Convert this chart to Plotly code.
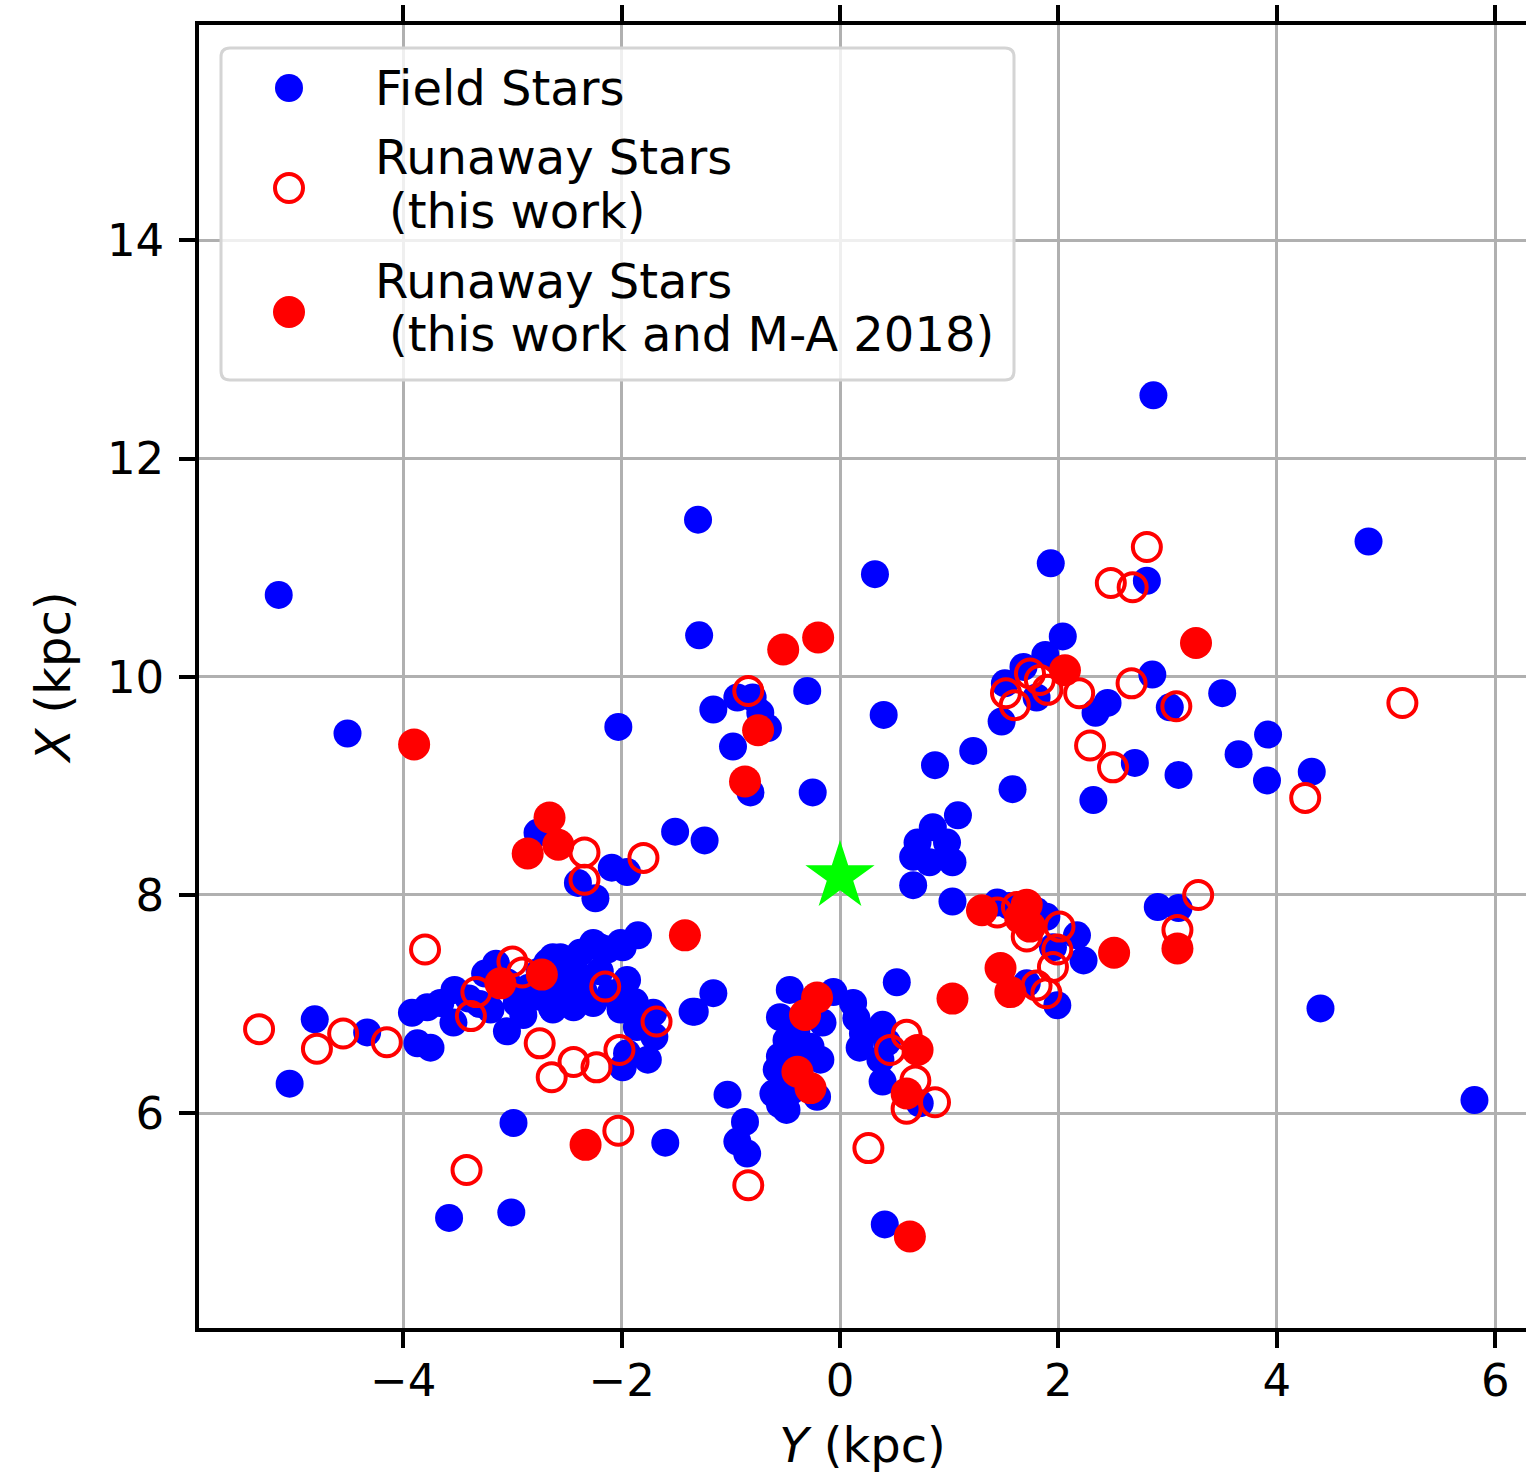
import plotly.graph_objects as go

# Galactocentric positions in kpc: horizontal axis is Y, vertical axis is X
field_Y = [
    -5.14, -4.51, -5.04, -4.81, -4.33, -3.58, -3.01, -2.99, -1.60,
    -1.30, -1.29, -2.03, -1.16, -0.98, -0.94, -0.80, -0.73, -0.66, -0.30, 0.40,
    -0.82, -0.25, 0.32, -1.51, -1.24,
    -2.77, -2.40, -2.24, -2.09, -1.95,
    1.93, 2.87, 4.84, 2.81, 2.04, 1.88, 1.68, 1.51, 1.80, 1.48, 2.45, 2.34,
    2.86, 3.02, 3.50, 3.92, 2.70, 3.65, 3.10, 2.32, 3.91, 4.32,
    0.87, 1.22, 1.58, 1.08, 0.85, 0.71, 0.98, 0.67, 0.82, 1.03, 0.67, 1.03,
    1.44, 1.89, 2.17, 2.23, 1.95, 1.71, 1.99, 2.91, 3.10, 4.40, 5.81, 0.52,
    1.55, 1.80,
    -1.16, -1.33, -1.03, -0.87, -0.94, -0.85, -0.46, -0.55, -0.16, -0.06,
    0.12, 0.15, 0.18, 0.39, 0.43, 0.39, 0.73, 0.41, -0.49, -0.27, -0.18,
    -0.58, -0.21, -0.61, -0.55, -0.49, -0.43, -0.55, -0.40, -0.35, -0.45,
    -0.30, 0.21, 0.37,
    -3.92, -3.78, -3.66, -3.53, -3.87, -3.75, -3.54, -3.15, -3.05, -2.96,
    -2.77, -2.63, -2.63, -2.47, -2.44, -2.26, -2.13, -1.99, -1.85, -2.26,
    -2.01, -1.95, -2.38, -1.71, -1.86, -1.35, -1.99, -1.76, -1.95, -2.68,
    -2.56, -2.38, -2.20, -2.01, -2.64, -3.40, -3.30, -3.20, -2.85, -2.55,
    -2.35, -2.50, -3.05, -2.20, -2.10, -1.88, -3.25, -2.90, -2.75, -1.70,
]
field_X = [
    10.75, 9.48, 6.27, 6.86, 6.74, 5.04, 5.09, 5.91, 5.73,
    11.44, 10.38, 9.54, 9.70, 9.36, 9.81, 9.81, 9.67, 9.53, 9.87, 9.65,
    8.94, 8.94, 10.94, 8.58, 8.50,
    8.57, 8.11, 7.97, 8.25, 8.21,
    11.04, 12.58, 11.24, 10.88, 10.37, 10.20, 10.09, 9.94, 9.81, 9.59, 9.76, 9.67,
    10.02, 9.72, 9.85, 9.47, 9.21, 9.29, 9.10, 8.87, 9.05, 9.13,
    9.19, 9.32, 8.97, 8.73, 8.62, 8.48, 8.48, 8.35, 8.30, 8.30, 8.09, 7.94,
    7.93, 7.80, 7.63, 7.40, 7.52, 7.19, 6.99, 7.89, 7.88, 6.96, 6.12, 7.20,
    7.90, 7.85,
    7.10, 6.93, 6.17, 5.92, 5.74, 5.63, 7.13, 6.88, 6.83, 7.11,
    7.01, 6.87, 6.60, 6.81, 6.65, 6.29, 6.09, 4.98, 6.67, 6.61, 6.49,
    6.40, 6.15, 6.18, 6.08, 6.03, 6.49, 6.52, 6.75, 6.30, 6.20,
    6.95, 6.73, 6.49,
    6.92, 6.97, 7.01, 7.13, 6.64, 6.60, 6.83, 7.37, 6.75, 7.01,
    7.07, 6.95, 7.43, 7.25, 6.97, 7.56, 7.50, 7.52, 7.63, 7.01,
    6.95, 7.22, 7.25, 6.92, 6.79, 6.93, 6.42, 6.49, 6.55, 7.38,
    7.43, 7.47, 7.52, 7.56, 6.97, 7.05, 7.00, 6.95, 7.15, 7.15,
    7.12, 7.05, 7.20, 7.30, 7.10, 7.02, 7.28, 6.90, 7.30, 6.70,
]

# Runaway stars identified in this work only
runaway_Y = [
    -5.32, -4.79, -4.55, -4.15, -3.80, -3.38, -3.33, -3.00, -2.91, -2.75,
    -2.64, -2.44, -2.23, -2.02, -2.15, -1.68, -2.34, -2.34, -1.80, -3.42,
    -2.03, -0.84, 0.26, -0.84, 0.61, 0.46, 0.69, 0.87, 0.61, 1.44,
    1.62, 1.71, 2.01, 1.99, 1.95, 1.80, 1.89, 3.09, 3.28, 4.26,
    5.15, 2.29, 2.50, 3.08, 2.67, 2.19, 1.52, 1.60, 1.74, 1.83,
    1.90, 2.48, 2.68, 2.81,
]
runaway_X = [
    6.77, 6.59, 6.73, 6.65, 7.50, 6.89, 7.11, 7.39, 7.29, 6.64,
    6.33, 6.47, 6.42, 6.58, 7.16, 6.84, 8.39, 8.14, 8.34, 5.48,
    5.84, 5.34, 5.68, 9.87, 6.72, 6.58, 6.30, 6.10, 6.04, 7.84,
    7.89, 7.62, 7.71, 7.50, 7.34, 7.17, 7.10, 7.68, 8.00, 8.89,
    9.76, 9.37, 9.17, 9.73, 9.94, 9.85, 9.85, 9.74, 10.03, 9.97,
    9.88, 10.86, 10.82, 11.19,
]

# Runaway stars found in this work and in M-A 2018
runaway_ma_Y = [
    -0.52, -0.20, -0.75, -0.87, -3.90, -2.66, -2.86, -2.58, -1.42, 3.26,
    2.06, 2.51, 3.09, 1.30, 1.71, 1.65, 1.74, 1.47, 1.56, 1.03,
    0.71, 0.61, 0.64, -0.21, -0.32, -0.39, -0.27, -3.11, -2.73, -2.33,
]
runaway_ma_X = [
    10.25, 10.36, 9.51, 9.04, 9.38, 8.71, 8.38, 8.46, 7.63, 10.31,
    10.06, 7.47, 7.51, 7.86, 7.91, 7.79, 7.71, 7.33, 7.11, 7.05,
    6.58, 6.18, 4.87, 7.06, 6.90, 6.38, 6.23, 7.19, 7.27, 5.71,
]

# Position of the Sun
sun_Y = [0.0]
sun_X = [8.17]

x_ticks = [-4, -2, 0, 2, 4, 6]
y_ticks = [6, 8, 10, 12, 14]

legend_entries = [
    ("Field Stars",),
    ("Runaway Stars", "(this work)"),
    ("Runaway Stars", "(this work and M-A 2018)"),
]

# Canvas geometry (pixels)
W, H = 1526, 1479
ML, MR, MT, MB = 199, 0, 25, 151
PW = W - ML - MR
PH = H - MT - MB

FONT = "DejaVu Sans"
FS = 45        # tick labels
FS_TEXT = 48   # legend and axis titles
BLUE = "#0000ff"
RED = "#ff0000"


def px(x):
    return (x - ML) / PW


def py(y):
    return (H - MB - y) / PH


fig = go.Figure()

fig.add_trace(go.Scatter(
    x=field_Y, y=field_X, mode="markers", name="Field Stars",
    marker=dict(symbol="circle", size=28, color=BLUE, line=dict(width=0)),
))
fig.add_trace(go.Scatter(
    x=runaway_Y, y=runaway_X, mode="markers", name="Runaway Stars (this work)",
    marker=dict(symbol="circle-open", size=28, color=RED, line=dict(width=4, color=RED)),
))
fig.add_trace(go.Scatter(
    x=runaway_ma_Y, y=runaway_ma_X, mode="markers",
    name="Runaway Stars (this work and M-A 2018)",
    marker=dict(symbol="circle", size=32, color=RED, line=dict(width=0)),
))
fig.add_trace(go.Scatter(
    x=sun_Y, y=sun_X, mode="markers", name="Sun",
    marker=dict(symbol="star", size=52, color="#00ff00", line=dict(width=0)),
))

# Legend box with rounded corners
x0, x1 = px(221), px(1014)
y0, y1 = py(380), py(48)
rx, ry = 9 / PW, 9 / PH
legend_path = (
    f"M {x0 + rx},{y1} L {x1 - rx},{y1} Q {x1},{y1} {x1},{y1 - ry} "
    f"L {x1},{y0 + ry} Q {x1},{y0} {x1 - rx},{y0} "
    f"L {x0 + rx},{y0} Q {x0},{y0} {x0},{y0 + ry} "
    f"L {x0},{y1 - ry} Q {x0},{y1} {x0 + rx},{y1} Z"
)
shapes = [dict(
    type="path", path=legend_path, xref="paper", yref="paper",
    fillcolor="rgba(255,255,255,0.8)", line=dict(color="#d4d4d4", width=3),
    layer="above",
)]

# Legend keys
key_x = px(289)
key_specs = [
    (py(88), 14, BLUE, BLUE, 0),
    (py(188), 14, "rgba(0,0,0,0)", RED, 4),
    (py(312), 16, RED, RED, 0),
]
for ky, r, fill, edge, lw in key_specs:
    shapes.append(dict(
        type="circle", xref="paper", yref="paper",
        xsizemode="pixel", ysizemode="pixel",
        xanchor=key_x, yanchor=ky, x0=-r, x1=r, y0=-r, y1=r,
        fillcolor=fill, line=dict(color=edge, width=lw), layer="above",
    ))

# Legend texts
annotations = []
line_y = [[88], [157, 211], [281, 334]]
for entry, ys in zip(legend_entries, line_y):
    for i, (txt, yy) in enumerate(zip(entry, ys)):
        annotations.append(dict(
            text=txt, xref="paper", yref="paper",
            x=px(373 if i == 0 else 387), y=py(yy),
            xanchor="left", yanchor="middle", showarrow=False,
            font=dict(family=FONT, size=FS_TEXT, color="black"),
        ))

axis_common = dict(
    showgrid=True, gridcolor="#b0b0b0", gridwidth=3,
    zeroline=False, showline=True, linecolor="black", linewidth=3.5,
    ticks="outside", ticklen=16, tickwidth=3.5, tickcolor="black",
    tickfont=dict(family=FONT, size=FS, color="black"),
)

fig.update_layout(
    width=W, height=H, autosize=False,
    margin=dict(l=ML, r=MR, t=MT, b=MB, pad=0),
    paper_bgcolor="white", plot_bgcolor="white",
    showlegend=False,
    shapes=shapes, annotations=annotations,
    xaxis=dict(
        range=[-5.870, 6.282], tickvals=x_ticks,
        ticktext=[f"\u2212{abs(v)}" if v < 0 else str(v) for v in x_ticks],
        mirror="ticks", ticklabelstandoff=-6,
        title=dict(text="<i>Y</i> (kpc)", font=dict(family=FONT, size=FS_TEXT, color="black"),
                   standoff=24),
        **axis_common,
    ),
    yaxis=dict(
        range=[4.031, 15.974], tickvals=y_ticks,
        ticktext=[str(v) for v in y_ticks],
        mirror=False, ticklabelstandoff=6,
        title=dict(text="<i>X</i> (kpc)", font=dict(family=FONT, size=FS_TEXT, color="black"),
                   standoff=22),
        **axis_common,
    ),
)

fig.write_html("out.html")
